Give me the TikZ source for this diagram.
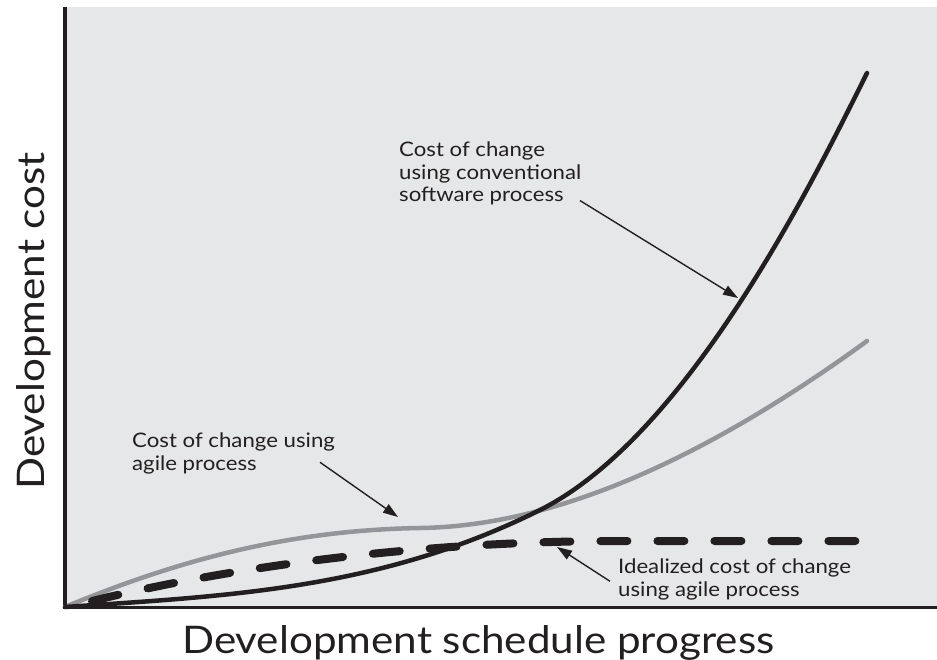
\documentclass[tikz,border=0pt]{standalone}
\usepackage{fontspec}
\setmainfont{Lato}[FakeStretch=1.11]
\usetikzlibrary{arrows.meta}
\definecolor{panel}{HTML}{E6E7E8}
\definecolor{ink}{HTML}{231F20}
\definecolor{agilegrey}{HTML}{939598}

\begin{document}
\begin{tikzpicture}[x=1pt,y=-1pt,
  note/.style={anchor=north west, inner sep=0pt, align=left, text=ink,
    font=\fontsize{20}{22.5}\selectfont},
  axislabel/.style={anchor=base west, inner sep=0pt, text=ink, font=\fontsize{38}{40}\selectfont},
  pointer/.style={-{Triangle[length=15pt,width=10pt]}, line width=1.4pt, ink},
  curve/.style={line width=4pt, line cap=round, line join=round}]
\useasboundingbox (0,0) rectangle (937,660);
\fill [panel] (65,7) rectangle (937,607);

\coordinate (O) at (65,607);
\coordinate (T) at (65,7);
\coordinate (E) at (937,607);

% curves
\draw [curve, agilegrey, line width=4.5pt] (O) .. controls (190,555) and (300,530) .. (420,528)
  .. controls (565,526) and (720,448) .. (867,341);
\draw [curve, ink, line width=8pt, dash pattern=on 27pt off 30pt] (92,601) .. controls (260,560) and (450,541) .. (620,541) -- (867,541);
\draw [curve, ink, line width=4.5pt] (O) .. controls (225,596) and (380,590) .. (540,510)
  .. controls (690,435) and (817,173) .. (867,73);

% axes
\draw [ink, line width=3.5pt] (T) -- ([yshift=1.75pt]O);
\draw [ink, line width=3pt] ([xshift=-1.75pt]O) -- (E);

\node (ylabel) at (44,490) [axislabel, rotate=90] {Development cost};
\node (xlabel) at (182,653) [axislabel] {Development schedule progress};

\node (conv) at (399,142) [note] {Cost of change\\using conventional\\software process};
\node (agile) at (132,433) [note] {Cost of change using\\agile process};
\node (ideal) at (618,559) [note] {Idealized cost of change\\using agile process};

\coordinate (convtip) at (738,298);
\coordinate (agiletip) at (398,517);
\coordinate (idealtip) at (557,547);

\draw [pointer] ([shift={(181,-5)}]conv.south west) -- (convtip);
\draw [pointer] ([shift={(188,-12)}]agile.south west) -- (agiletip);
\draw [pointer] ([shift={(-8,-19)}]ideal.south west) -- (idealtip);
\end{tikzpicture}
\end{document}
